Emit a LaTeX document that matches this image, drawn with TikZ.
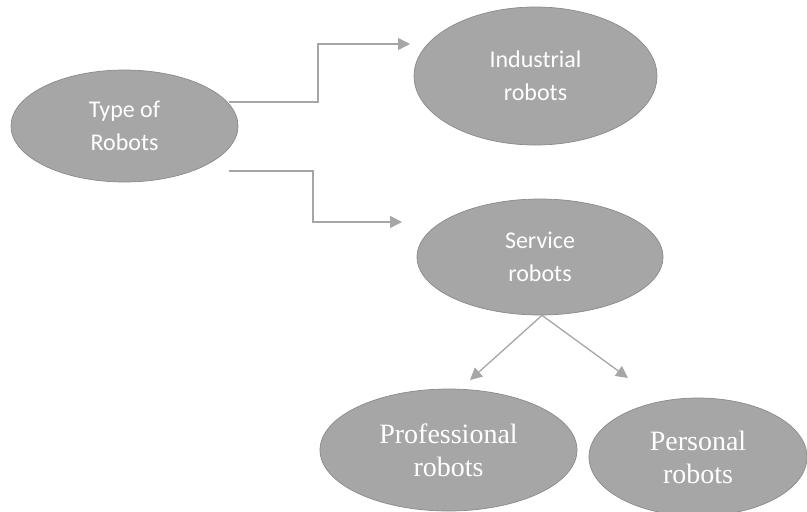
\documentclass[tikz,border=0pt]{standalone}
\usepackage{fontspec}
\setmainfont{Liberation Serif}
\newfontfamily\calib{Carlito}
\usetikzlibrary{shapes.geometric,arrows.meta}
\definecolor{ellfill}{HTML}{A6A6A6}
\definecolor{elldraw}{HTML}{8A8A8A}
\definecolor{arrcol}{HTML}{A6A6A6}
\begin{document}
\begin{tikzpicture}[x=1pt,y=-1pt,
  ell/.style={ellipse,fill=ellfill,draw=elldraw,line width=0.7pt,inner sep=0pt,align=center,text=white},
  sansell/.style={ell,font=\calib\fontsize{24}{33}\selectfont},
  serifell/.style={ell,font=\fontsize{28}{33}\selectfont},
  arr/.style={draw=arrcol,line width=1.3pt,-{Triangle[length=12pt,width=12pt]}}]
\useasboundingbox (0,0) rectangle (807,512);
\node[sansell,minimum width=227pt,minimum height=112pt] (tor) at (124.5,126) {Type of\\Robots};
\node[sansell,minimum width=243pt,minimum height=138pt] (ind) at (535.5,76) {Industrial\\robots};
\node[sansell,minimum width=246pt,minimum height=116pt] (srv) at (540,257) {Service\\robots};
\node[serifell,minimum width=257pt,minimum height=122pt] (pro) at (448.5,450) {Professional\\robots};
\node[serifell,minimum width=218pt,minimum height=118pt] (per) at (698,457) {Personal\\robots};
\coordinate (s1) at ([xshift=104pt,yshift=24pt]tor.center);
\coordinate (s2) at ([xshift=104pt,yshift=-45pt]tor.center);
\coordinate (e1) at (410,44);
\coordinate (e2) at (402,222);
\coordinate (e3) at (470,380);
\coordinate (e4) at (628,378);
\draw[arr] (s1) -- (318,102) |- (e1);
\draw[arr] (s2) -- (313,171) |- (e2);
\draw[arr] ([xshift=2pt]srv.south) -- (e3);
\draw[arr] ([xshift=2pt]srv.south) -- (e4);
\end{tikzpicture}
\end{document}
